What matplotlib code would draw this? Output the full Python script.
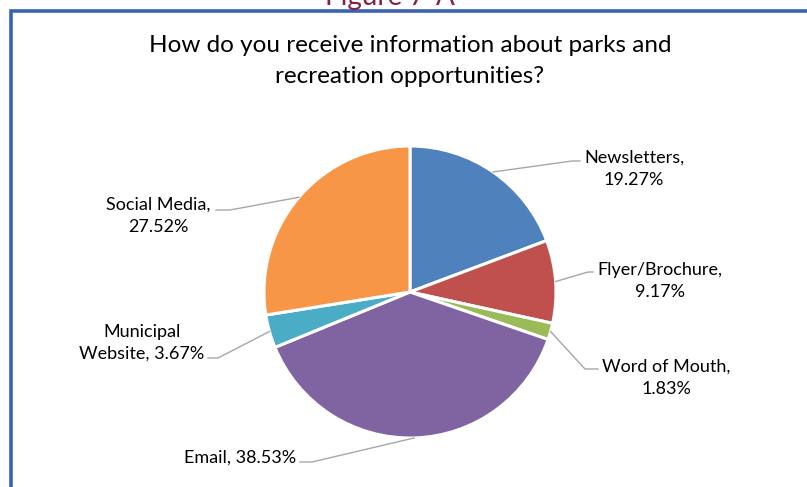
import matplotlib
matplotlib.use("Agg")
import matplotlib.pyplot as plt
import numpy as np

# Survey responses
categories = ["Newsletters", "Flyer/Brochure", "Word of Mouth", "Email",
              "Municipal Website", "Social Media"]
shares = [19.27, 9.17, 1.83, 38.53, 3.67, 27.52]
label_texts = ["Newsletters,\n19.27%", "Flyer/Brochure,\n9.17%", "Word of Mouth,\n1.83%",
               "Email, 38.53%", "Municipal\nWebsite, 3.67%", "Social Media,\n27.52%"]
colors = ["#4F81BD", "#C0504D", "#9BBB59", "#8064A2", "#4BACC6", "#F79646"]

title = "How do you receive information about parks and\nrecreation opportunities?"
figure_caption = "Figure 7-A"

W, H = 807, 487
fig = plt.figure(figsize=(W / 100, H / 100), dpi=100)
ax = fig.add_axes([0, 0, 1, 1])


def py(y):
    # convert a top-down pixel row to the upward axis coordinate
    return H - y


font = ["Lato", "DejaVu Sans"]

cx, cy, r = 410, py(292), 146
wedges, _ = ax.pie(shares, colors=colors, startangle=90, counterclock=False,
                   center=(cx, cy), radius=r, frame=True,
                   wedgeprops=dict(edgecolor="white", linewidth=2.2))
ax.set_xlim(0, W)
ax.set_ylim(0, H)
ax.axis("off")

# frame around the chart area
ax.plot([10.5, 10.5, W + 5], [-5, py(10.5), py(10.5)], color="#3A62B2",
        lw=2.6, solid_joinstyle="miter", zorder=1)

# caption partly above the frame
ax.text(390, py(5), figure_caption, ha="center", va="baseline", fontsize=20,
        color="#7E2246", family=font)

ax.text(410, py(61), title, ha="center", va="center", fontsize=17.5,
        color="#000000", family=font, linespacing=1.6)

# label anchor (text centre) and leader-line elbow, in pixel rows from the top
label_pos = [(634, 169), (660, 281), (666, 378), (240, 458), (142, 343), (158, 216)]
elbows = [((572, 161), (580, 161)), ((588, 272), (593, 272)), ((585, 369), (598, 369)),
          ((312, 462), (300, 462)), ((218, 358), (208, 358)), ((230, 210), (216, 210))]

for w, (lx, ly), txt, (e1, e2) in zip(wedges, label_pos, label_texts, elbows):
    ang = np.deg2rad((w.theta1 + w.theta2) / 2)
    sx = cx + r * np.cos(ang)
    sy = cy + r * np.sin(ang)
    ax.plot([sx, e1[0], e2[0]], [sy, py(e1[1]), py(e2[1])], color="#A6A6A6",
            lw=1.0, zorder=3)
    ax.text(lx, py(ly), txt, ha="center", va="center", fontsize=13,
            color="#000000", family=font, linespacing=1.45)

fig.savefig("out.png", dpi=100)
